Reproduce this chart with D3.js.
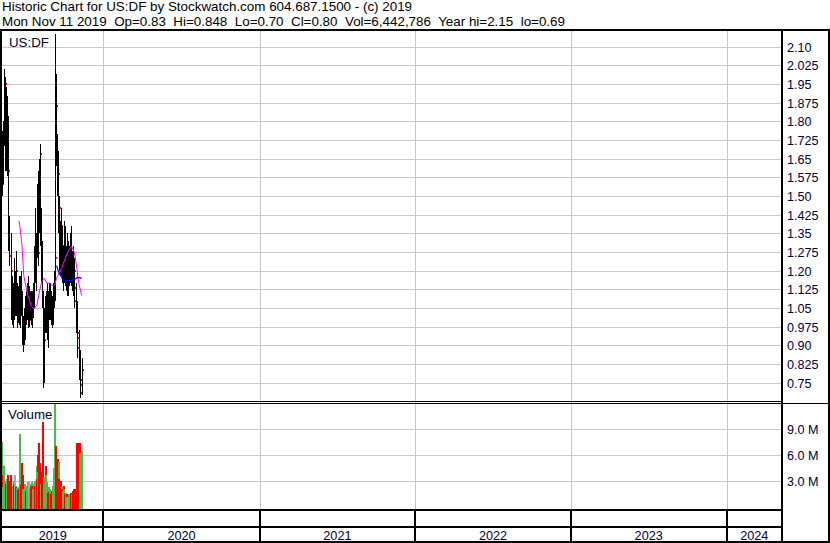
<!DOCTYPE html>
<html><head><meta charset="utf-8">
<script src="https://cdn.jsdelivr.net/npm/d3@7"></script>
<style>
html,body{margin:0;padding:0;background:#fff;overflow:hidden}
svg{display:block}
text{font-family:"Liberation Sans",Arial,sans-serif}
</style></head><body>
<svg id="c" width="830" height="543"></svg>
<script>
// ---------------- data ----------------
const headerLines = [
  "Historic Chart for US:DF by Stockwatch.com 604.687.1500 - (c) 2019",
  "Mon Nov 11 2019  Op=0.83  Hi=0.848  Lo=0.70  Cl=0.80  Vol=6,442,786  Year hi=2.15  lo=0.69"
];
const symbolLabel = "US:DF";
const volumeLabel = "Volume";
const xDomain = ["2019-05-08", "2024-05-10"];

const tradeDays = [
"2019-05-08","2019-05-09","2019-05-10","2019-05-13","2019-05-14","2019-05-15","2019-05-16","2019-05-17","2019-05-20","2019-05-21",
"2019-05-22","2019-05-23","2019-05-24","2019-05-28","2019-05-29","2019-05-30","2019-05-31","2019-06-03","2019-06-04","2019-06-05",
"2019-06-06","2019-06-07","2019-06-10","2019-06-11","2019-06-12","2019-06-13","2019-06-14","2019-06-17","2019-06-18","2019-06-19",
"2019-06-20","2019-06-21","2019-06-24","2019-06-25","2019-06-26","2019-06-27","2019-06-28","2019-07-01","2019-07-02","2019-07-03",
"2019-07-05","2019-07-08","2019-07-09","2019-07-10","2019-07-11","2019-07-12","2019-07-15","2019-07-16","2019-07-17","2019-07-18",
"2019-07-19","2019-07-22","2019-07-23","2019-07-24","2019-07-25","2019-07-26","2019-07-29","2019-07-30","2019-07-31","2019-08-01",
"2019-08-02","2019-08-05","2019-08-06","2019-08-07","2019-08-08","2019-08-09","2019-08-12","2019-08-13","2019-08-14","2019-08-15",
"2019-08-16","2019-08-19","2019-08-20","2019-08-21","2019-08-22","2019-08-23","2019-08-26","2019-08-27","2019-08-28","2019-08-29",
"2019-08-30","2019-09-03","2019-09-04","2019-09-05","2019-09-06","2019-09-09","2019-09-10","2019-09-11","2019-09-12","2019-09-13",
"2019-09-16","2019-09-17","2019-09-18","2019-09-19","2019-09-20","2019-09-23","2019-09-24","2019-09-25","2019-09-26","2019-09-27",
"2019-09-30","2019-10-01","2019-10-02","2019-10-03","2019-10-04","2019-10-07","2019-10-08","2019-10-09","2019-10-10","2019-10-11",
"2019-10-14","2019-10-15","2019-10-16","2019-10-17","2019-10-18","2019-10-21","2019-10-22","2019-10-23","2019-10-24","2019-10-25",
"2019-10-28","2019-10-29","2019-10-30","2019-10-31","2019-11-01","2019-11-04","2019-11-05","2019-11-06","2019-11-07","2019-11-08",
"2019-11-11"];

const high = [
1.76,1.72,1.80,2.01,1.98,1.90,1.97,1.94,1.90,1.82,
1.68,1.50,1.42,1.35,1.28,1.25,1.18,1.15,1.20,1.25,
1.22,1.20,1.28,1.27,1.15,1.12,1.14,1.15,1.18,1.12,
1.18,1.20,1.12,1.05,1.00,1.02,1.05,1.08,1.10,1.12,
1.15,1.18,1.12,1.14,1.10,1.12,1.10,1.12,1.08,1.12,
1.15,1.20,1.30,1.45,1.40,1.35,1.50,1.55,1.48,1.60,
1.65,1.71,1.70,1.45,1.38,1.32,1.12,0.98,0.95,1.05,
1.10,1.10,1.12,1.15,1.10,1.12,1.15,1.12,1.14,1.15,
1.12,1.10,1.12,1.15,1.20,1.30,2.15,1.99,1.92,1.75,
1.68,1.60,1.50,1.48,1.40,1.45,1.42,1.35,1.38,1.30,
1.35,1.40,1.38,1.32,1.30,1.35,1.30,1.32,1.25,1.30,
1.35,1.32,1.38,1.30,1.28,1.30,1.26,1.25,1.24,1.20,
1.15,1.10,1.08,1.05,1.00,0.96,0.90,0.88,0.85,0.80,
0.848];
const low = [
1.52,1.50,1.55,1.70,1.68,1.60,1.62,1.60,1.58,1.52,
1.35,1.28,1.22,1.12,1.05,1.00,0.98,0.97,1.02,1.03,
1.00,1.02,1.05,1.02,0.98,0.97,0.99,0.98,1.00,0.97,
1.00,1.02,0.95,0.90,0.88,0.875,0.90,0.92,0.95,0.98,
1.00,1.00,0.97,0.98,0.975,1.00,0.98,1.00,0.97,1.00,
1.01,1.05,1.10,1.22,1.15,1.12,1.25,1.28,1.22,1.25,
1.35,1.40,1.30,1.25,1.15,1.05,0.85,0.73,0.75,0.88,
0.95,0.95,0.97,1.00,0.92,0.89,1.00,1.00,1.02,1.00,
0.98,0.97,0.98,1.02,1.05,1.08,1.25,1.70,1.62,1.50,
1.42,1.35,1.28,1.20,1.18,1.20,1.18,1.15,1.16,1.12,
1.15,1.18,1.20,1.14,1.12,1.15,1.10,1.12,1.10,1.14,
1.16,1.15,1.18,1.14,1.12,1.15,1.10,1.08,1.10,1.05,
1.00,0.95,0.92,0.90,0.85,0.82,0.76,0.72,0.70,0.69,
0.70];
const close = [
1.62,1.55,1.74,1.92,1.72,1.65,1.95,1.64,1.79,1.60,
1.37,1.32,1.26,1.15,1.20,1.08,1.02,1.10,1.06,1.10,
1.06,1.06,1.20,1.05,1.03,1.08,1.03,1.12,1.01,1.09,
1.15,1.06,0.98,0.93,0.92,0.93,0.98,1.00,1.07,1.03,
1.12,1.05,1.08,1.00,1.00,1.04,1.06,1.02,1.05,1.04,
1.10,1.16,1.27,1.30,1.20,1.30,1.45,1.38,1.27,1.45,
1.40,1.67,1.33,1.29,1.30,1.10,0.90,0.76,0.92,1.00,
1.05,0.99,1.08,1.02,1.05,1.01,1.08,1.07,1.06,1.10,
1.02,1.00,1.06,1.10,1.12,1.25,1.96,1.86,1.68,1.62,
1.59,1.40,1.45,1.30,1.25,1.38,1.22,1.30,1.20,1.26,
1.22,1.35,1.25,1.18,1.27,1.20,1.26,1.16,1.16,1.24,
1.20,1.29,1.22,1.19,1.25,1.20,1.16,1.20,1.13,1.08,
1.04,0.99,0.95,0.93,0.89,0.85,0.79,0.76,0.71,0.74,
0.80];
// volume in millions of shares
const volumeM = [
7.4,3.6,2.2,4.65,2.4,2.8,3.0,2.6,3.2,3.6,
2.9,2.6,2.9,3.6,2.5,2.9,2.2,2.4,2.8,3.0,
2.6,3.6,2.4,2.2,1.8,2.1,1.9,2.3,2.0,2.2,
8.4,2.5,5.0,4.5,3.6,2.0,1.8,2.2,2.6,1.8,
2.4,2.0,2.8,2.2,3.0,2.0,2.6,2.2,2.8,2.4,
2.0,2.6,2.2,2.9,2.4,3.0,4.7,3.2,6.0,4.0,
7.3,3.2,5.0,3.5,2.6,4.0,9.7,8.0,3.4,3.0,
2.6,4.7,3.6,2.0,2.8,1.6,2.2,1.7,1.5,2.0,
1.4,1.8,2.0,2.4,4.5,3.0,13.0,7.0,5.0,4.0,
5.5,4.0,5.1,3.2,2.9,2.5,3.0,2.2,2.0,1.8,
2.4,2.0,1.5,1.2,1.6,1.4,1.1,1.3,1.1,1.4,
1.0,1.3,1.6,1.2,1.5,1.8,1.5,1.2,1.6,2.0,
2.0,2.0,6.6,6.6,7.3,7.3,7.0,7.3,6.5,6.2,
6.443];

const maFastDates = ["2019-06-17","2019-06-20","2019-06-24","2019-06-28","2019-07-02","2019-07-08","2019-07-16","2019-07-22","2019-07-29","2019-08-02","2019-08-09","2019-08-15","2019-08-21","2019-08-27","2019-09-03","2019-09-09","2019-09-13","2019-09-19","2019-09-25","2019-10-02","2019-10-10","2019-10-18","2019-10-25","2019-10-31","2019-11-04","2019-11-11"];
const maFastValues = [1.40,1.365,1.30,1.18,1.145,1.10,1.056,1.046,1.063,1.10,1.157,1.17,1.15,1.15,1.14,1.144,1.17,1.19,1.21,1.244,1.277,1.298,1.272,1.204,1.15,1.10];
const maSlowDates = ["2019-09-13","2019-09-19","2019-09-26","2019-10-02","2019-10-14","2019-10-25","2019-11-01","2019-11-11"];
const maSlowValues = [1.22,1.19,1.17,1.16,1.16,1.165,1.173,1.17];

const priceTickLabels = ["2.10","2.025","1.95","1.875","1.80","1.725","1.65","1.575","1.50","1.425","1.35","1.275","1.20","1.125","1.05","0.975","0.90","0.825","0.75"];
const volumeTickLabels = ["9.0 M","6.0 M","3.0 M"];
const volumeTickValues = [9, 6, 3];
const yearLabels = ["2019","2020","2021","2022","2023","2024"];

// ---------------- drawing ----------------
const parse = d3.timeParse("%Y-%m-%d");
const svg = d3.select("#c").attr("shape-rendering", "crispEdges");
const plotL = 2, plotR = 782;
const priceTop = 31, priceBot = 400;
const volTop = 404, volBot = 509;
const gridCol = "#c8c8c8";
const labelCol = "#000033";

const x = d3.scaleTime().domain(xDomain.map(parse)).range([plotL, plotR]);
const y = d3.scaleLinear().domain([0.75, 2.10]).range([382.7, 46.7]);
const yv = d3.scaleLinear().domain([0, 9]).range([506.5, 428.5]);

svg.append("rect").attr("width", 830).attr("height", 543).attr("fill", "#fff");

// header
svg.append("g").selectAll("text").data(headerLines).join("text")
  .attr("x", 2).attr("y", (d, i) => 11 + i * 14.5)
  .attr("font-size", 13.4).attr("fill", "#000")
  .style("white-space", "pre").text(d => d);

const defs = svg.append("defs");
defs.append("clipPath").attr("id", "pc").append("rect")
  .attr("x", plotL).attr("y", priceTop).attr("width", plotR - plotL).attr("height", priceBot - priceTop);
defs.append("clipPath").attr("id", "vc").append("rect")
  .attr("x", plotL).attr("y", volTop).attr("width", plotR - plotL).attr("height", volBot - volTop);

// year boundaries
const yearBounds = x.ticks(d3.timeYear.every(1)).filter(d => x(d) > plotL + 1 && x(d) < plotR - 1);

// horizontal gridlines (price)
const priceTickValues = priceTickLabels.map(Number);
svg.append("g").selectAll("line").data(priceTickValues).join("line")
  .attr("x1", plotL).attr("x2", plotR)
  .attr("y1", d => Math.round(y(d)) + 0.5).attr("y2", d => Math.round(y(d)) + 0.5)
  .attr("stroke", gridCol);
// volume gridlines
svg.append("g").selectAll("line").data(volumeTickValues).join("line")
  .attr("x1", plotL).attr("x2", plotR)
  .attr("y1", d => Math.round(yv(d)) + 0.5).attr("y2", d => Math.round(yv(d)) + 0.5)
  .attr("stroke", gridCol);
// vertical gridlines
svg.append("g").selectAll("line").data(yearBounds).join("line")
  .attr("x1", d => Math.round(x(d)) + 0.5).attr("x2", d => Math.round(x(d)) + 0.5)
  .attr("y1", priceTop).attr("y2", volBot)
  .attr("stroke", gridCol);

// labels in panels
svg.append("text").attr("x", 9).attr("y", 46.5).attr("font-size", 13.3).attr("fill", labelCol).text(symbolLabel);
svg.append("text").attr("x", 8).attr("y", 419).attr("font-size", 13.3).attr("fill", labelCol).text(volumeLabel);

// data join
const bars = tradeDays.map((d, i) => ({
  date: parse(d), hi: high[i], lo: low[i], cl: close[i], vol: volumeM[i],
  dir: i === 0 ? 1 : Math.sign(close[i] - close[i - 1])
}));

// volume bars
const vg = svg.append("g").attr("clip-path", "url(#vc)");
vg.selectAll("rect").data(bars).join("rect")
  .attr("x", d => Math.round(x(d.date)) - 1).attr("width", 2)
  .attr("y", d => Math.round(yv(d.vol)))
  .attr("height", d => volBot - Math.round(yv(d.vol)))
  .attr("fill", d => d.dir > 0 ? "#4cbb4c" : d.dir < 0 ? "#ff0000" : "#a8a8a8");

// price bars with close tick
const pg = svg.append("g").attr("clip-path", "url(#pc)");
bars.forEach(d => {
  const px = Math.round(x(d.date));
  const yt = Math.round(y(d.hi)), yb = Math.round(y(d.lo));
  pg.append("rect").attr("x", px).attr("width", 1).attr("y", yt).attr("height", Math.max(1, yb - yt)).attr("fill", "#000");
  pg.append("rect").attr("x", px + 1).attr("width", 1).attr("y", Math.round(y(d.cl)) - 1).attr("height", 2).attr("fill", "#ff0000");
});

// moving averages
const line = d3.line().x(d => x(d[0])).y(d => y(d[1]));
const mg = svg.append("g").attr("clip-path", "url(#pc)").attr("shape-rendering", "auto");
mg.append("path").datum(maFastDates.map((d, i) => [parse(d), maFastValues[i]]))
  .attr("d", line).attr("fill", "none").attr("stroke", "#ff00ff").attr("stroke-width", 1);
mg.append("path").datum(maSlowDates.map((d, i) => [parse(d), maSlowValues[i]]))
  .attr("d", line).attr("fill", "none").attr("stroke", "#0000ff").attr("stroke-width", 1.2);

// right axes
const pa = svg.append("g").attr("transform", `translate(${plotR + 1},0)`)
  .call(d3.axisRight(y).tickValues(priceTickValues).tickFormat((d, i) => priceTickLabels[i]).tickSize(0).tickPadding(4));
const va = svg.append("g").attr("transform", `translate(${plotR + 1},0)`)
  .call(d3.axisRight(yv).tickValues(volumeTickValues).tickFormat((d, i) => volumeTickLabels[i]).tickSize(0).tickPadding(4));
[pa, va].forEach(g => {
  g.select(".domain").remove();
  g.selectAll("text").attr("font-size", 12.6).attr("fill", labelCol)
    .attr("font-family", "'Liberation Sans',Arial,sans-serif").attr("dy", "0.36em");
});

// year labels (centered between boundaries)
const edges = [plotL, ...yearBounds.map(x), plotR];
svg.append("g").selectAll("text").data(yearLabels).join("text")
  .attr("x", (d, i) => (edges[i] + edges[i + 1]) / 2).attr("y", 539.5)
  .attr("text-anchor", "middle").attr("font-size", 12.7).attr("fill", labelCol).text(d => d);

// frame
const fr = svg.append("g").attr("stroke", "#000");
fr.append("line").attr("x1", 0).attr("x2", 830).attr("y1", 30).attr("y2", 30).attr("stroke-width", 2);
fr.append("line").attr("x1", 1).attr("x2", 1).attr("y1", 29).attr("y2", 543).attr("stroke-width", 2);
fr.append("line").attr("x1", 829).attr("x2", 829).attr("y1", 29).attr("y2", 543).attr("stroke-width", 2);
fr.append("line").attr("x1", 0).attr("x2", 830).attr("y1", 542).attr("y2", 542).attr("stroke-width", 2);
fr.append("line").attr("x1", plotR).attr("x2", plotR).attr("y1", 29).attr("y2", 543).attr("stroke-width", 2);
fr.append("line").attr("x1", 0).attr("x2", plotR).attr("y1", 401.5).attr("y2", 401.5).attr("stroke-width", 1);
fr.append("line").attr("x1", 0).attr("x2", 830).attr("y1", 403.5).attr("y2", 403.5).attr("stroke-width", 1);
fr.append("line").attr("x1", 0).attr("x2", plotR).attr("y1", 510).attr("y2", 510).attr("stroke-width", 2);
fr.append("line").attr("x1", 0).attr("x2", plotR).attr("y1", 527).attr("y2", 527).attr("stroke-width", 2);
fr.selectAll(".yb").data(yearBounds).join("line").attr("class", "yb")
  .attr("x1", d => Math.round(x(d))).attr("x2", d => Math.round(x(d)))
  .attr("y1", 510).attr("y2", 542).attr("stroke-width", 2);
</script>
</body></html>
